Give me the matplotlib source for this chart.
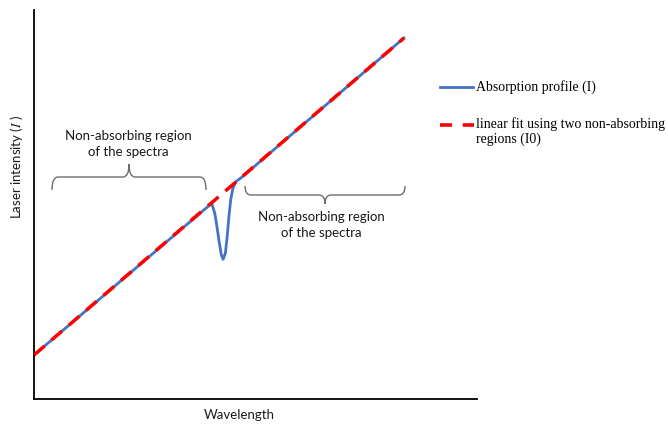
import matplotlib.pyplot as plt
from matplotlib.path import Path
from matplotlib.patches import PathPatch

plt.rcParams['mathtext.fontset'] = 'stix'

# absorption profile (wavelength, intensity in arbitrary units)
profile_x = [0, 40.1, 40.8, 41.3, 41.8, 42.3, 42.7, 43.2, 43.6, 44.0, 44.4, 44.9, 45.6, 46.9, 83.5]
profile_y = [11.3, 50.3, 47.8, 44.3, 40.4, 37.0, 35.9, 37.5, 41.7, 46.9, 51.2, 54.2, 55.9, 57.0, 92.8]

# linear fit through the two non-absorbing regions
fit_x = [0, 83.5]
fit_y = [11.3, 92.8]

region_label = "Non-absorbing region\nof the spectra"
legend_labels = ["Absorption profile (I)", "linear fit using two non-absorbing\nregions (I0)"]

blue = "#4472C4"
red = "#FF0000"

fig = plt.figure(figsize=(6.68, 4.26), dpi=100)
ax = fig.add_axes([34 / 668, 27 / 426, 443 / 668, 389 / 426])
ax.plot(profile_x, profile_y, color=blue, lw=2.0, zorder=2)
ax.plot(fit_x, fit_y, color=red, lw=2.5, dashes=(4.0, 2.6),
        dash_capstyle="butt", zorder=3)
ax.set_xlim(0, 100)
ax.set_ylim(0, 100)
ax.set_xticks([])
ax.set_yticks([])
for s in ["top", "right"]:
    ax.spines[s].set_visible(False)
for s in ["left", "bottom"]:
    ax.spines[s].set_linewidth(1.3)

# overlay in pixel coordinates for braces, labels and the legend
ov = fig.add_axes([0, 0, 1, 1], facecolor="none")
ov.set_xlim(0, 668)
ov.set_ylim(426, 0)
ov.axis("off")


def brace(x0, x1, y_end, y_mid, y_tip, r=6):
    xm = (x0 + x1) / 2
    verts = [(x0, y_end), (x0, y_mid), (x0 + r, y_mid),
             (xm - r, y_mid), (xm, y_mid), (xm, y_tip),
             (xm, y_mid), (xm + r, y_mid),
             (x1 - r, y_mid), (x1, y_mid), (x1, y_end)]
    codes = [Path.MOVETO, Path.CURVE3, Path.CURVE3,
             Path.LINETO, Path.CURVE3, Path.CURVE3,
             Path.CURVE3, Path.CURVE3,
             Path.LINETO, Path.CURVE3, Path.CURVE3]
    ov.add_patch(PathPatch(Path(verts, codes), fill=False, ec="#6d6d6d", lw=1.0))


brace(52, 206, 190, 177, 164)
brace(245, 405, 186, 195, 204)

txt_kw = dict(family="Lato", fontsize=9.5, color="#1a1a1a", ha="center",
              va="center", linespacing=1.45)
ov.text(128, 144, region_label, **txt_kw)
ov.text(321, 225, region_label, **txt_kw)

ov.text(17, 167, r"Laser intensity ($I$ )", family="Lato", fontsize=9.5,
        rotation=90, ha="center", va="center", color="#1a1a1a")
ov.text(239, 415, "Wavelength", family="Lato", fontsize=9.5,
        ha="center", va="center", color="#1a1a1a")

# legend drawn by hand
ov.plot([440, 473], [87, 87], color=blue, lw=2.0)
ov.plot([440, 474], [125, 125], color=red, lw=2.6, dashes=(3.3, 3.0),
        dash_capstyle="butt")
ov.text(476, 87, legend_labels[0], family="Liberation Serif", fontsize=10,
        va="center", ha="left")
ov.text(476, 117, legend_labels[1], family="Liberation Serif", fontsize=10,
        va="top", ha="left", linespacing=1.2)

fig.savefig("out.png", dpi=100)
